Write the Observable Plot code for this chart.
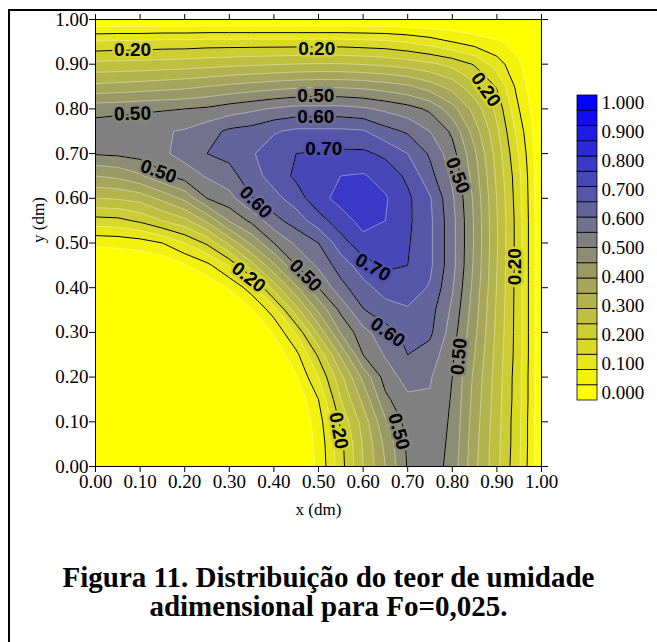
<!DOCTYPE html>
<html><head><meta charset="utf-8">
<script src="https://cdn.jsdelivr.net/npm/d3@7"></script>
<script src="https://cdn.jsdelivr.net/npm/@observablehq/plot@0.6"></script>
<style>
html,body{margin:0;padding:0;background:#fff;width:657px;height:642px;overflow:hidden;}
#page{position:relative;width:657px;height:642px;overflow:hidden;}
#border{position:absolute;left:8px;top:9px;width:700px;height:700px;border-left:2px solid #000;border-top:2px solid #000;}
#main{position:absolute;left:0;top:0;}
#bar{position:absolute;left:560px;top:85px;}
#caption{position:absolute;left:0;width:657px;top:563px;text-align:center;font-family:"Liberation Serif",serif;font-weight:bold;font-size:29px;line-height:29px;}
</style></head>
<body><div id="page"><div id="border"></div><div id="main"></div><div id="bar"></div>
<div id="caption">Figura 11. Distribuição do teor de umidade<br>adimensional para Fo=0,025.</div></div>
<script>
// tick values
const xTicks = [0,0.1,0.2,0.3,0.4,0.5,0.6,0.7,0.8,0.9,1.0];
const yTicks = [0,0.1,0.2,0.3,0.4,0.5,0.6,0.7,0.8,0.9,1.0];
// contour levels
const bandLevels = [0,0.05,0.1,0.15,0.2,0.25,0.3,0.35,0.4,0.45,0.5,0.55,0.6,0.65,0.7,0.75,0.8,0.85,0.9,0.95];
const lineLevels = [0.1,0.2,0.5,0.6,0.7];
const legendTicks = [0,0.1,0.2,0.3,0.4,0.5,0.6,0.7,0.8,0.9,1.0];
// grid samples at x = 0,0.05,...,1 for each y row (dimensionless moisture)
const row_y000 = [0,0,0,0,0,0,0,0,0,0,0.06,0.18,0.30,0.40,0.505,0.53,0.48,0.363,0.264,0.155,0];
const row_y005 = [0,0,0,0,0,0,0,0,0,0,0.065,0.185,0.305,0.412,0.51,0.535,0.485,0.368,0.266,0.16,0];
const row_y010 = [0,0,0,0,0,0,0,0,0,0,0.075,0.21,0.32,0.442,0.52,0.54,0.49,0.374,0.269,0.16,0];
const row_y015 = [0,0,0,0,0,0,0,0,0,0.01,0.10,0.25,0.364,0.488,0.54,0.545,0.495,0.381,0.272,0.165,0];
const row_y020 = [0,0,0,0,0,0,0,0,0,0.045,0.15,0.286,0.414,0.522,0.57,0.555,0.50,0.388,0.276,0.165,0];
const row_y025 = [0,0,0,0,0,0,0,0,0.01,0.085,0.21,0.36,0.50,0.555,0.60,0.58,0.508,0.40,0.281,0.17,0];
const row_y030 = [0,0,0,0,0,0,0,0,0.055,0.155,0.314,0.454,0.533,0.58,0.615,0.61,0.525,0.4125,0.287,0.17,0];
const row_y035 = [0,0,0,0,0,0,0,0.045,0.125,0.28,0.41,0.512,0.597,0.63,0.645,0.62,0.54,0.422,0.292,0.17,0];
const row_y040 = [0,0,0,0,0,0.01,0.055,0.125,0.27,0.39,0.50,0.583,0.634,0.67,0.675,0.645,0.555,0.432,0.297,0.17,0];
const row_y045 = [0,0,0,0.01,0.045,0.085,0.155,0.28,0.39,0.50,0.56,0.624,0.674,0.71,0.70,0.66,0.567,0.44,0.301,0.17,0];
const row_y050 = [0.06,0.065,0.075,0.10,0.15,0.21,0.314,0.41,0.50,0.56,0.60,0.677,0.735,0.735,0.705,0.66,0.567,0.444,0.304,0.17,0];
const row_y055 = [0.18,0.185,0.21,0.25,0.286,0.36,0.454,0.512,0.583,0.624,0.677,0.73,0.765,0.75,0.71,0.66,0.567,0.443,0.303,0.17,0];
const row_y060 = [0.30,0.305,0.32,0.364,0.414,0.50,0.533,0.597,0.634,0.674,0.735,0.765,0.78,0.755,0.71,0.655,0.558,0.438,0.298,0.165,0];
const row_y065 = [0.40,0.412,0.442,0.488,0.522,0.555,0.58,0.63,0.67,0.71,0.735,0.75,0.755,0.73,0.69,0.617,0.54,0.425,0.29,0.16,0];
const row_y070 = [0.505,0.51,0.52,0.54,0.57,0.60,0.615,0.645,0.675,0.70,0.705,0.71,0.71,0.69,0.65,0.593,0.52,0.409,0.278,0.145,0];
const row_y075 = [0.53,0.535,0.54,0.545,0.555,0.58,0.61,0.62,0.645,0.66,0.66,0.66,0.655,0.617,0.593,0.55,0.49,0.375,0.26,0.125,0];
const row_y080 = [0.48,0.485,0.49,0.495,0.50,0.508,0.525,0.54,0.555,0.567,0.567,0.567,0.558,0.54,0.52,0.49,0.42,0.33,0.235,0.10,0];
const row_y085 = [0.363,0.368,0.374,0.381,0.388,0.40,0.4125,0.422,0.432,0.44,0.444,0.443,0.438,0.425,0.409,0.375,0.33,0.265,0.195,0.075,0];
const row_y090 = [0.264,0.266,0.269,0.272,0.276,0.281,0.287,0.292,0.297,0.301,0.304,0.303,0.298,0.29,0.278,0.26,0.235,0.195,0.125,0.055,0];
const row_y095 = [0.155,0.16,0.16,0.165,0.165,0.17,0.17,0.17,0.17,0.17,0.17,0.17,0.165,0.16,0.145,0.125,0.10,0.075,0.055,0.035,0];
const row_y100 = [0,0,0,0,0,0,0,0,0,0,0,0,0,0,0,0,0,0,0,0,0];
// contour labels (data units)
const contourLabels = [
  {x:0.083, y:0.931, level:0.2, angle:0},
  {x:0.496, y:0.935, level:0.2, angle:0},
  {x:0.083, y:0.789, level:0.5, angle:-2},
  {x:0.494, y:0.830, level:0.5, angle:0},
  {x:0.494, y:0.783, level:0.6, angle:0},
  {x:0.512, y:0.711, level:0.7, angle:0},
  {x:0.141, y:0.660, level:0.5, angle:20},
  {x:0.359, y:0.591, level:0.6, angle:45},
  {x:0.343, y:0.423, level:0.2, angle:38},
  {x:0.471, y:0.427, level:0.5, angle:45},
  {x:0.622, y:0.445, level:0.7, angle:30},
  {x:0.655, y:0.300, level:0.6, angle:35},
  {x:0.815, y:0.246, level:0.5, angle:-85},
  {x:0.940, y:0.447, level:0.2, angle:-90},
  {x:0.545, y:0.080, level:0.2, angle:80},
  {x:0.680, y:0.078, level:0.5, angle:75},
  {x:0.812, y:0.651, level:0.5, angle:70},
  {x:0.875, y:0.843, level:0.2, angle:55}
];

const gridRows = [row_y000,row_y005,row_y010,row_y015,row_y020,row_y025,row_y030,row_y035,row_y040,row_y045,row_y050,row_y055,row_y060,row_y065,row_y070,row_y075,row_y080,row_y085,row_y090,row_y095,row_y100];
const values = gridRows.flat();
const nx = gridRows[0].length, ny = gridRows.length;
const half = 0.5 / (nx - 1);
const grid = {x1: -half, x2: 1 + half, y1: -half, y2: 1 + half, width: nx, height: ny};

const colorScale = {type: "linear", domain: [0, 0.5, 0.95], range: ["#ffff00", "#808080", "#0000ff"], interpolate: "rgb", clamp: true};
const f2 = d3.format(".2f"), f3 = d3.format(".3f");

const main = Plot.plot({
  width: 657, height: 520,
  marginLeft: 95, marginRight: 116, marginTop: 19, marginBottom: 54,
  x: {domain: [0, 1]}, y: {domain: [0, 1]},
  color: colorScale,
  style: {fontFamily: "Liberation Serif", fontSize: "19px", background: "transparent", color: "black"},
  marks: [
    Plot.contour(values, {...grid, fill: Plot.identity, thresholds: bandLevels, stroke: "white", strokeOpacity: 0.55, strokeWidth: 0.7, clip: true}),
    Plot.contour(values, {...grid, value: Plot.identity, thresholds: lineLevels, stroke: "black", strokeWidth: 1, fill: "none", clip: true}),
    Plot.text(contourLabels, {x: "x", y: "y", text: d => f2(d.level), rotate: "angle",
      fontFamily: "Liberation Sans", fontWeight: "bold", fontSize: 19, fill: "black",
      stroke: d => d.level - 0.025, strokeWidth: 5, paintOrder: "stroke"}),
    Plot.frame({stroke: "black"}),
    Plot.axisX({anchor: "bottom", ticks: xTicks, tickFormat: f2, tickSize: 6, tickPadding: 2, label: null}),
    Plot.axisX({anchor: "top", ticks: xTicks, tickFormat: () => "", tickSize: 6, label: null}),
    Plot.axisY({anchor: "left", ticks: yTicks, tickFormat: f2, tickSize: 6, tickPadding: 1, label: null}),
    Plot.axisY({anchor: "right", ticks: yTicks, tickFormat: () => "", tickSize: 6, label: null}),
    Plot.text(["x (dm)"], {frameAnchor: "bottom", dy: 48, fontSize: 17}),
    Plot.text(["y (dm)"], {frameAnchor: "left", dx: -57, rotate: -90, fontSize: 17})
  ]
});
document.getElementById("main").appendChild(main);

const bar = Plot.plot({
  width: 97, height: 330,
  marginLeft: 17, marginRight: 60, marginTop: 10, marginBottom: 15,
  x: {domain: [0, 1], axis: null}, y: {domain: [0, bandLevels.length], axis: null},
  color: colorScale,
  style: {fontFamily: "Liberation Serif", fontSize: "19px", background: "transparent", color: "black"},
  marks: [
    Plot.rect(bandLevels, {x1: 0, x2: 1, y1: (d, i) => i, y2: (d, i) => i + 1, fill: d => d, stroke: "black", strokeWidth: 0.8}),
    Plot.text(legendTicks, {x: 1, y: d => 0.5 + d * (bandLevels.length - 1), text: d => f3(d), textAnchor: "start", dx: 4})
  ]
});
document.getElementById("bar").appendChild(bar);
</script></body></html>
